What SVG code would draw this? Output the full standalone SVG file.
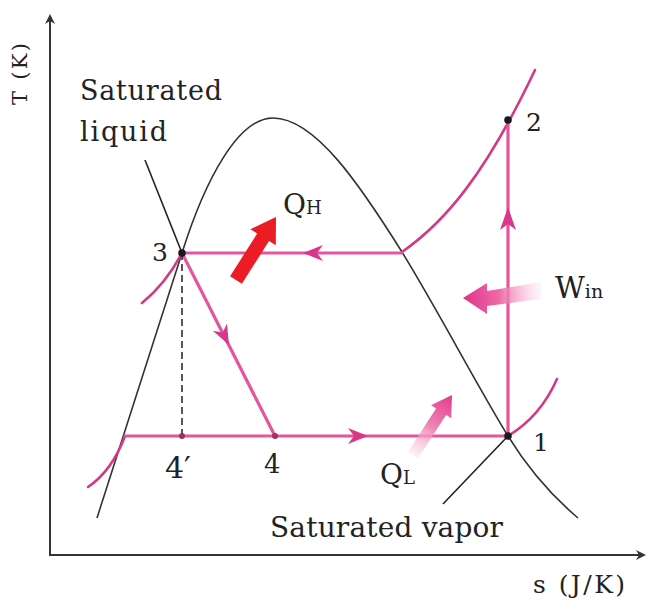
<svg xmlns="http://www.w3.org/2000/svg" width="656" height="601" viewBox="0 0 656 601">
<style>
  .txt { font-family: "DejaVu Serif", "Liberation Serif", serif; fill: #222; }
  .axis { stroke: #333; stroke-width: 2; fill: none; }
  .dome { stroke: #333; stroke-width: 1.6; fill: none; }
  .leader { stroke: #222; stroke-width: 1.6; fill: none; }
  .cyc { stroke: #e4559d; stroke-width: 3.2; fill: none; stroke-linecap: round; }
  .iso { stroke: #d23a86; stroke-width: 2.6; fill: none; stroke-linecap: round; }
  .ah { fill: #d9378a; }
  .pt { fill: #1a1a1a; }
</style>
<defs>
  <marker id="axhead" markerWidth="10" markerHeight="10" refX="8" refY="5" orient="auto" markerUnits="userSpaceOnUse">
    <path d="M0,0 L10,5 L0,10 L3,5 Z" fill="#333"/>
  </marker>
  <linearGradient id="gWin" gradientUnits="userSpaceOnUse" x1="463" y1="298" x2="542" y2="290">
    <stop offset="0" stop-color="#e23288"/>
    <stop offset="0.45" stop-color="#ec6aa8"/>
    <stop offset="1" stop-color="#fbd3e5" stop-opacity="0.2"/>
  </linearGradient>
  <linearGradient id="gQL" gradientUnits="userSpaceOnUse" x1="452" y1="395" x2="411" y2="460">
    <stop offset="0" stop-color="#e23a8c"/>
    <stop offset="0.5" stop-color="#ef86b7"/>
    <stop offset="1" stop-color="#fbdbe9" stop-opacity="0.2"/>
  </linearGradient>
</defs>

<g id="axes">
  <line class="axis" x1="50" y1="556" x2="50" y2="16" marker-end="url(#axhead)"/>
  <line class="axis" x1="49" y1="555" x2="644" y2="555" marker-end="url(#axhead)"/>
  <text class="txt" font-size="21" text-anchor="middle" textLength="62" transform="translate(27,74) rotate(-90)">T (K)</text>
  <text class="txt" font-size="25" x="533" y="593" textLength="92">s (J/K)</text>
</g>

<g id="saturation-dome">
  <path class="dome" d="M97,518 L182,253 C205,180 238,118 273,118 C315,118 360,185 402,252 C440,314 475,382 508,436 C530,472 552,496 578,518"/>
</g>

<g id="connectors">
  <path class="iso" d="M402,252 C445,222 485,175 535,70"/>
  <path class="iso" d="M508,436 C528,424 546,404 557,379"/>
  <path class="iso" d="M142,303 C158,290 172,272 182,253"/>
  <path class="iso" d="M88,487 C103,477 116,460 125,436"/>
  <line class="cyc" x1="182" y1="253" x2="402" y2="253"/>
  <line class="cyc" x1="508" y1="436" x2="508" y2="120"/>
  <line class="cyc" x1="125" y1="436" x2="508" y2="436" stroke-width="3.6"/>
  <line class="cyc" x1="182" y1="253" x2="275" y2="436"/>
  <path class="ah" d="M303,253 L323,245 L317,253 L323,261 Z"/>
  <path class="ah" d="M508,207 L516,230 L508,224 L500,230 Z"/>
  <path class="ah" d="M368,436 L348,428 L354,436 L348,444 Z"/>
  <path class="ah" d="M229,345 L212.8,330.8 L222.7,332.5 L227,323.6 Z"/>
  <line x1="182" y1="253" x2="182" y2="436" stroke="#222" stroke-width="1.5" stroke-dasharray="7,4"/>
  <line class="leader" x1="145" y1="160" x2="182" y2="253"/>
  <line class="leader" x1="508" y1="436" x2="443" y2="504"/>
</g>

<g id="heat-work-arrows">
  <polygon id="arrow-QH" fill="#ec1c24" points="230.1,276.2 257.2,233.5 250.4,229.3 276,217 275.8,245.3 269,241.1 241.9,283.8"/>
  <polygon id="arrow-Win" fill="url(#gWin)" points="463,298 487,283 487,291 541,282 541,299 487,306 487,314"/>
  <polygon id="arrow-QL" fill="url(#gQL)" points="452,395 451.2,418.3 446.1,415.1 418,458.3 408,451.7 436.1,408.5 431,405.3"/>
</g>

<g id="state-1">
  <circle class="pt" cx="508" cy="436" r="3.8"/>
  <text class="txt" font-size="25" x="533" y="451">1</text>
</g>
<g id="state-2">
  <circle class="pt" cx="508" cy="120" r="3.8"/>
  <text class="txt" font-size="25" x="526" y="131">2</text>
</g>
<g id="state-3">
  <circle class="pt" cx="182" cy="253" r="3.8"/>
  <text class="txt" font-size="25" x="168" y="261" text-anchor="end">3</text>
</g>
<g id="state-4prime">
  <circle cx="182" cy="436" r="3" fill="#a0305f"/>
  <text class="txt" font-size="30" x="165" y="478">4′</text>
</g>
<g id="state-4">
  <circle cx="275" cy="436" r="3" fill="#a0305f"/>
  <text class="txt" font-size="26" x="264" y="473">4</text>
</g>

<g id="labels">
  <text class="txt" font-size="27" x="80" y="100" textLength="142">Saturated</text>
  <text class="txt" font-size="27" x="80" y="141" textLength="87">liquid</text>
  <text class="txt" font-size="28" x="270" y="537" textLength="233">Saturated vapor</text>
  <text class="txt" x="283" y="214"><tspan font-size="28">Q</tspan><tspan font-size="18">H</tspan></text>
  <text class="txt" x="555" y="298"><tspan font-size="29">W</tspan><tspan font-size="19">in</tspan></text>
  <text class="txt" x="380" y="484"><tspan font-size="28">Q</tspan><tspan font-size="18">L</tspan></text>
</g>
</svg>
